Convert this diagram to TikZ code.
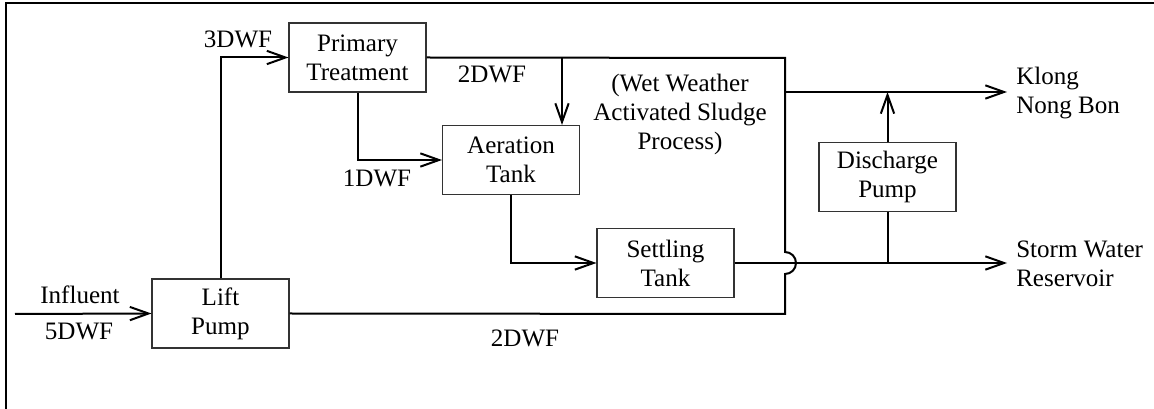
\documentclass[tikz,border=0pt]{standalone}
\usepackage{fontspec}
\setmainfont{Liberation Serif}
\usetikzlibrary{arrows.meta,calc}
\begin{document}
\begin{tikzpicture}[x=0.75pt,y=-0.75pt,
  font=\fontsize{18.8}{21.75}\selectfont,
  unit/.style={draw=black!80,line width=0.8pt,minimum width=102.75pt,
    minimum height=51.75pt,inner sep=0pt,align=center,fill=white},
  lbl/.style={inner sep=0pt,align=center},
  flow/.style={line width=1.5pt},
  arr/.style={flow,-{Straight Barb[length=14pt,width=10pt,line width=1.5pt]}},
  frame/.style={line width=1.8pt}]
\useasboundingbox (0,0) rectangle (1154,409);

% outer frame (top and left edges)
\coordinate (ftr) at (1154,3);
\coordinate (ftl) at (6,3);
\coordinate (fbl) at (6,409);
\draw[frame] (ftr) -- (ftl) -- (fbl);

% process units
\node[unit] (lift)   at (220.5,313.5) {Lift\\Pump};
\node[unit] (prim)   at (357.5,57.5)  {Primary\\Treatment};
\node[unit] (aer)    at (511,160)     {Aeration\\Tank};
\node[unit] (settle) at (665.5,263)   {Settling\\Tank};
\node[unit] (dis)    at (887.5,177)   {Discharge\\Pump};

% junctions and free ends
\coordinate (in)    at (15,314);
\coordinate (tr)    at (785,58);
\coordinate (hop)   at (785,252);
\coordinate (br)    at (785,314);
\coordinate (split) at (562,58);
\coordinate (kj)    at (785,92);
\coordinate (klong) at (1007,92);
\coordinate (storm) at (1007,263);

% flows
\draw[arr] (in) -- (lift.west);
\draw[arr] (lift.north) |- (prim.west);
\draw[flow] (prim.east) -- (tr) -- (hop)
  arc[start angle=90,end angle=-90,radius=8.25pt] -- (br) -- (lift.east);
\draw[arr] (split) -- (split |- aer.north);
\draw[arr] (prim.south) |- (aer.west);
\draw[arr] (aer.south) |- (settle.west);
\draw[arr] (settle.east) -- (storm);
\draw[arr] (kj) -- (klong);
\draw[flow] (dis.south) -- (dis.south |- storm);
\draw[arr] (dis.north) -- (dis.north |- klong);

% flow labels
\node[lbl,anchor=base] (l3) at (238,48) {3DWF};
\node[lbl,anchor=base] (l2a) at (492,83) {2DWF};
\node[lbl,anchor=base] (l1) at (377,187) {1DWF};
\node[lbl,anchor=base] (l2b) at (525,347) {2DWF};
\node[lbl,anchor=base] (linf) at (80,304) {Influent};
\node[lbl,anchor=base] (l5) at (79,340) {5DWF};
\node[lbl] (wet) at (680,114) {(Wet Weather\\Activated Sludge\\Process)};
\node[lbl,anchor=west,align=left] (kout) at (1016,93) {Klong\\Nong Bon};
\node[lbl,anchor=west,align=left] (sout) at (1016,264) {Storm Water\\Reservoir};
\end{tikzpicture}
\end{document}
